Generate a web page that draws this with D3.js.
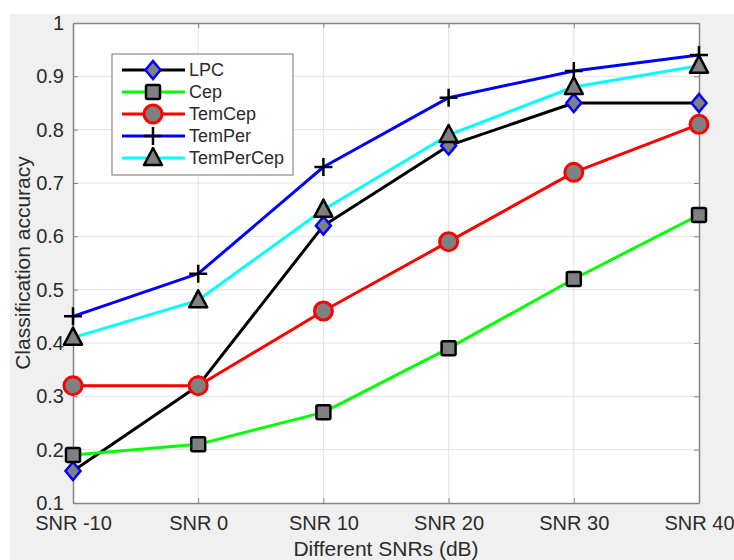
<!DOCTYPE html>
<html>
<head>
<meta charset="utf-8">
<script src="https://cdn.jsdelivr.net/npm/d3@7"></script>
<style>
  html, body { margin: 0; padding: 0; background: #ffffff; }
  svg { display: block; }
  text { font-family: "Liberation Sans", Arial, Helvetica, sans-serif; }
</style>
</head>
<body>
<svg id="chart" width="734" height="560"></svg>
<script>
// Category labels along the x axis
const categories = ["SNR -10", "SNR 0", "SNR 10", "SNR 20", "SNR 30", "SNR 40"];

// Classification accuracy per feature set
const lpc       = [0.16, 0.32, 0.62, 0.77, 0.85, 0.85];
const cep       = [0.19, 0.21, 0.27, 0.39, 0.52, 0.64];
const temCep    = [0.32, 0.32, 0.46, 0.59, 0.72, 0.81];
const temPer    = [0.45, 0.53, 0.73, 0.86, 0.91, 0.94];
const temPerCep = [0.41, 0.48, 0.65, 0.79, 0.88, 0.92];

const seriesNames = ["LPC", "Cep", "TemCep", "TemPer", "TemPerCep"];

// y tick values and labels
const yTicks = [0.1, 0.2, 0.3, 0.4, 0.5, 0.6, 0.7, 0.8, 0.9, 1];
const yTickLabels = ["0.1", "0.2", "0.3", "0.4", "0.5", "0.6", "0.7", "0.8", "0.9", "1"];

const xTitle = "Different SNRs (dB)";
const yTitle = "Classification accuracy";

// Line / marker styling per series
const styles = [
  { values: lpc,       line: "#000000", marker: "diamond",  edge: "#0000ff", fill: "#808080" },
  { values: cep,       line: "#00ff00", marker: "square",   edge: "#000000", fill: "#808080" },
  { values: temCep,    line: "#ff0000", marker: "circle",   edge: "#ff0000", fill: "#808080" },
  { values: temPer,    line: "#0000ff", marker: "plus",     edge: "#000000", fill: "none" },
  { values: temPerCep, line: "#00ffff", marker: "triangle", edge: "#000000", fill: "#808080" }
];

const svg = d3.select("#chart");
const W = 734, H = 560;
const plot = { left: 73, right: 699, top: 23, bottom: 503 };

// Figure background
svg.append("rect").attr("x", 10).attr("y", 14).attr("width", W - 10).attr("height", H - 14)
  .attr("fill", "#f0f0f0");

const x = d3.scalePoint().domain(categories).range([plot.left, plot.right]);
const y = d3.scaleLinear().domain([0.1, 1]).range([plot.bottom, plot.top]);

// Axes area
svg.append("rect")
  .attr("x", plot.left).attr("y", plot.top)
  .attr("width", plot.right - plot.left).attr("height", plot.bottom - plot.top)
  .attr("fill", "#ffffff");

// Grid
const grid = svg.append("g").attr("stroke", "#e3e3e3").attr("stroke-width", 1);
grid.selectAll("line.h").data(yTicks.slice(1, -1)).join("line")
  .attr("x1", plot.left).attr("x2", plot.right)
  .attr("y1", d => y(d)).attr("y2", d => y(d));
grid.selectAll("line.v").data(categories.slice(1, -1)).join("line")
  .attr("y1", plot.top).attr("y2", plot.bottom)
  .attr("x1", d => x(d)).attr("x2", d => x(d));

const axisColor = "#858585";
const labelColor = "#2b2b2b";

// Axes with inward ticks
const yAxis = svg.append("g").attr("transform", `translate(${plot.left},0)`)
  .call(d3.axisLeft(y).tickValues(yTicks).tickFormat((d, i) => yTickLabels[i])
    .tickSizeInner(-5).tickSizeOuter(0).tickPadding(9));
const xAxis = svg.append("g").attr("transform", `translate(0,${plot.bottom})`)
  .call(d3.axisBottom(x).tickSizeInner(-5).tickSizeOuter(0).tickPadding(13));
const yAxisR = svg.append("g").attr("transform", `translate(${plot.right},0)`)
  .call(d3.axisRight(y).tickValues(yTicks).tickFormat("").tickSizeInner(-5).tickSizeOuter(0));
const xAxisT = svg.append("g").attr("transform", `translate(0,${plot.top})`)
  .call(d3.axisTop(x).tickFormat("").tickSizeInner(-5).tickSizeOuter(0));

[yAxis, xAxis, yAxisR, xAxisT].forEach(g => {
  g.select(".domain").attr("stroke", axisColor).attr("stroke-width", 1.5);
  g.selectAll(".tick line").attr("stroke", axisColor).attr("stroke-width", 1);
  g.selectAll(".tick text").attr("fill", labelColor).attr("font-size", 20)
    .attr("font-family", '"Liberation Sans", Arial, sans-serif');
});

// Axis titles
svg.append("text")
  .attr("x", (plot.left + plot.right) / 2).attr("y", 556)
  .attr("text-anchor", "middle").attr("font-size", 21).attr("fill", labelColor)
  .text(xTitle);
svg.append("text")
  .attr("transform", `translate(30,${(plot.top + plot.bottom) / 2}) rotate(-90)`)
  .attr("text-anchor", "middle").attr("font-size", 21).attr("fill", labelColor)
  .text(yTitle);

// Marker drawing helper
function drawMarker(g, type, cx, cy, st) {
  if (type === "diamond") {
    g.append("path").attr("d", `M${cx},${cy - 9}L${cx + 7.5},${cy}L${cx},${cy + 9}L${cx - 7.5},${cy}Z`)
      .attr("fill", st.fill).attr("stroke", st.edge).attr("stroke-width", 2.5);
  } else if (type === "square") {
    g.append("rect").attr("x", cx - 7).attr("y", cy - 7).attr("width", 14).attr("height", 14)
      .attr("rx", 1.5)
      .attr("fill", st.fill).attr("stroke", st.edge).attr("stroke-width", 2.5);
  } else if (type === "circle") {
    g.append("circle").attr("cx", cx).attr("cy", cy).attr("r", 9)
      .attr("fill", st.fill).attr("stroke", st.edge).attr("stroke-width", 3);
  } else if (type === "plus") {
    g.append("path").attr("d", `M${cx - 9},${cy}H${cx + 9}M${cx},${cy - 9}V${cy + 9}`)
      .attr("fill", "none").attr("stroke", st.edge).attr("stroke-width", 2.5);
  } else if (type === "triangle") {
    g.append("path").attr("d", `M${cx},${cy - 10}L${cx + 9},${cy + 7}L${cx - 9},${cy + 7}Z`)
      .attr("fill", st.fill).attr("stroke", st.edge).attr("stroke-width", 2.5)
      .attr("stroke-linejoin", "round");
  }
}

// Series
const lineGen = d3.line().x((d, i) => x(categories[i])).y(d => y(d));
styles.forEach(st => {
  const g = svg.append("g");
  g.append("path").attr("d", lineGen(st.values))
    .attr("fill", "none").attr("stroke", st.line).attr("stroke-width", 3)
    .attr("stroke-linejoin", "round");
  st.values.forEach((v, i) => drawMarker(g, st.marker, x(categories[i]), y(v), st));
});

// Legend
const legend = svg.append("g");
const lg = { x: 112, y: 54, w: 181, h: 121 };
legend.append("rect").attr("x", lg.x).attr("y", lg.y).attr("width", lg.w).attr("height", lg.h)
  .attr("fill", "#ffffff").attr("stroke", "#8a8a8a").attr("stroke-width", 1.2);
seriesNames.forEach((name, i) => {
  const st = styles[i];
  const cy = 70 + i * 22;
  const row = legend.append("g");
  row.append("line").attr("x1", 122).attr("x2", 185).attr("y1", cy).attr("y2", cy)
    .attr("stroke", st.line).attr("stroke-width", 3);
  drawMarker(row, st.marker, 153, cy, st);
  row.append("text").attr("x", 189).attr("y", cy).attr("dy", "0.36em")
    .attr("font-size", 18).attr("fill", labelColor).text(name);
});
</script>
</body>
</html>
